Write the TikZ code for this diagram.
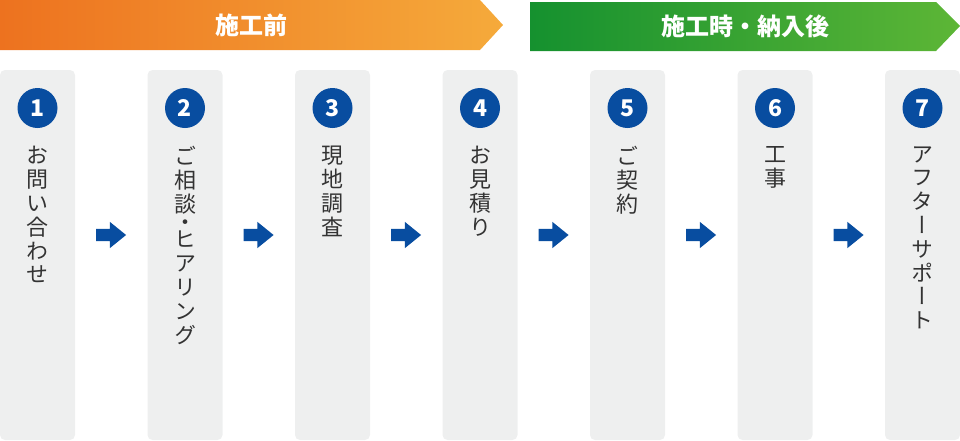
\documentclass[tikz,border=0pt]{standalone}
\usepackage{fontspec}
\setmainfont{Noto Sans CJK JP}
\newfontfamily\jpvert[RawFeature=+vert]{Noto Sans CJK JP}
\usetikzlibrary{positioning,shapes.arrows,calc}
\definecolor{orangeL}{RGB}{237,114,31}
\definecolor{orangeR}{RGB}{245,170,59}
\definecolor{greenL}{RGB}{21,145,47}
\definecolor{greenR}{RGB}{93,182,54}
\definecolor{boxgray}{RGB}{238,239,239}
\definecolor{stepblue}{RGB}{8,77,160}
\definecolor{labelgray}{RGB}{51,51,51}

\begin{document}
\begin{tikzpicture}[x=1pt,y=-1pt,
  colbox/.style={fill=boxgray,rounded corners=5pt,minimum width=75pt,minimum height=370pt,inner sep=0pt},
  numdot/.style={circle,fill=stepblue,minimum size=40pt,inner sep=0pt,text=white,font=\bfseries\fontsize{23}{23}\selectfont},
  steplabel/.style={anchor=north,align=center,inner sep=0pt,text=labelgray,font=\jpvert\fontsize{22}{23.8}\selectfont},
  nextarrow/.style={single arrow,fill=stepblue,inner sep=0pt,text height=6pt,text depth=6pt,minimum height=30pt,single arrow head extend=7pt,single arrow tip angle=78,xshift=-4pt},
  bantext/.style={text=white,font=\bfseries\fontsize{24}{24}\selectfont}]
\useasboundingbox (0,0) rectangle (960,440);

% Phase banners
\shade[left color=orangeL,right color=orangeR] (0,0) -- (480,0) -- (503,25) -- (480,50) -- (0,50) -- cycle;
\node[bantext] (before) at (251,25) {施工前};
\shade[left color=greenL,right color=greenR] (530,2) -- (936,2) -- (960,26) -- (936,51) -- (530,51) -- cycle;
\node[bantext] (after) at (745,26) {施工時・納入後};

% Steps
\foreach \i/\txt in {1/{お\\問\\い\\合\\わ\\せ},2/{ご\\相\\談\\[-6pt]・\\[-6pt]ヒ\\ア\\リ\\ン\\グ},3/{現\\地\\調\\査},4/{お\\見\\積\\り},5/{ご\\契\\約},6/{工\\事},7/{ア\\フ\\タ\\ー\\サ\\ポ\\ー\\ト}} {
  \node[colbox] (col\i) at ({37.5+147.5*(\i-1)},255) {};
  \node[numdot] (num\i) at ({37.5+147.5*(\i-1)},108) {\i};
  \node[steplabel,below=18pt of num\i] (lbl\i) {\txt};
}

% Arrows between steps
\foreach \i [evaluate=\i as \j using int(\i+1)] in {1,...,6}
  \node[nextarrow] (arr\i) at ($(col\i.east)!0.5!(col\j.west)+(0,-20)$) {};
\end{tikzpicture}
\end{document}
